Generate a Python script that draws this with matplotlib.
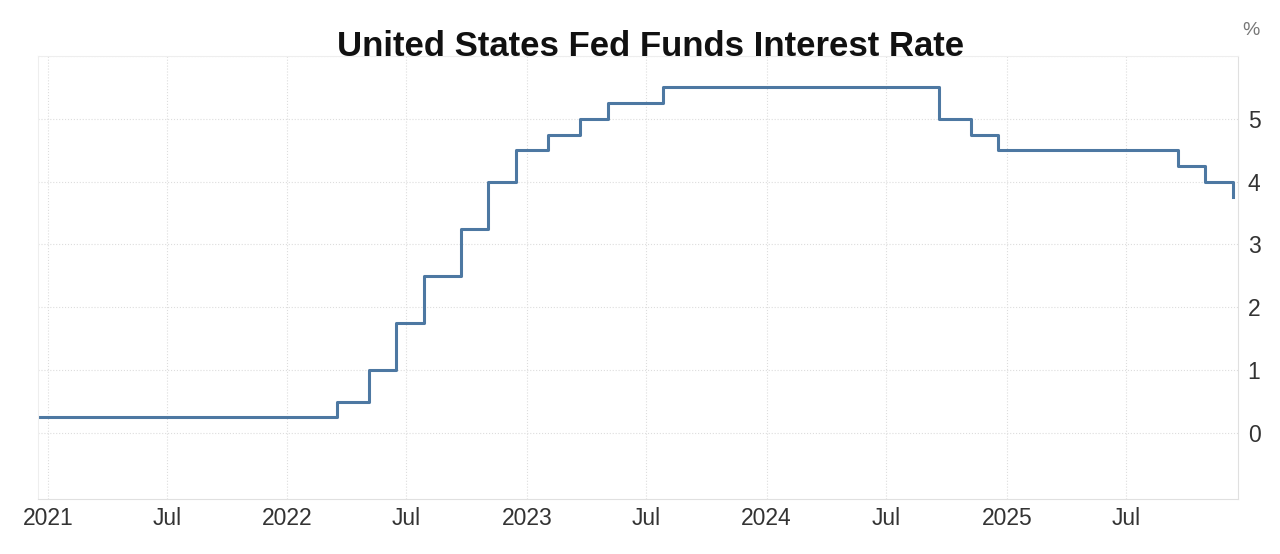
import matplotlib
matplotlib.use('Agg')
import matplotlib.pyplot as plt
import matplotlib.dates as mdates
import pandas as pd

# fed funds target rate (upper bound), change dates
dates = ['2020-12-15', '2022-03-17', '2022-05-05', '2022-06-16', '2022-07-28',
         '2022-09-22', '2022-11-03', '2022-12-15', '2023-02-02', '2023-03-23',
         '2023-05-04', '2023-07-27', '2024-09-19', '2024-11-08', '2024-12-19',
         '2025-09-18', '2025-10-30', '2025-12-11']
rates = [0.25, 0.5, 1.0, 1.75, 2.5, 3.25, 4.0, 4.5, 4.75, 5.0,
         5.25, 5.5, 5.0, 4.75, 4.5, 4.25, 4.0, 3.75]
yticks = [0, 1, 2, 3, 4, 5]
title = 'United States Fed Funds Interest Rate'

plt.rcParams['font.family'] = ['Liberation Sans', 'DejaVu Sans']

x = pd.to_datetime(dates)

fig = plt.figure(figsize=(12.8, 5.54), dpi=100)
ax = fig.add_axes([0.0297, 0.0993, 0.9375, 0.7997])

ax.step(x, rates, where='post', color='#4d78a2', lw=2.2)

ax.set_xlim(pd.Timestamp('2020-12-17'), pd.Timestamp('2025-12-19'))
ax.set_ylim(-1.05, 6.0)

ax.xaxis.set_major_locator(mdates.MonthLocator(bymonth=[1, 7]))
def fmt(v, pos=None):
    d = mdates.num2date(v)
    return str(d.year) if d.month == 1 else 'Jul'
ax.xaxis.set_major_formatter(plt.FuncFormatter(fmt))

ax.set_yticks(yticks + [6])
ax.set_yticklabels([str(t) for t in yticks] + [''])
ax.yaxis.tick_right()
ax.tick_params(axis='both', length=0, labelsize=16.5, colors='#333333')
ax.tick_params(axis='y', pad=7)
ax.tick_params(axis='x', pad=6)

ax.grid(True, color='#dddddd', lw=0.8, ls=':')
for s in ['left', 'top']:
    ax.spines[s].set_color('#eeeeee')
for s in ['right', 'bottom']:
    ax.spines[s].set_color('#e0e0e0')

fig.text(0.5085, 0.916, title, ha='center', va='center', fontsize=25,
         fontweight='bold', color='#111111')
fig.text(0.977, 0.945, '%', ha='center', va='center', fontsize=14, color='#777777')

fig.savefig('out.png', dpi=100, facecolor='white')
